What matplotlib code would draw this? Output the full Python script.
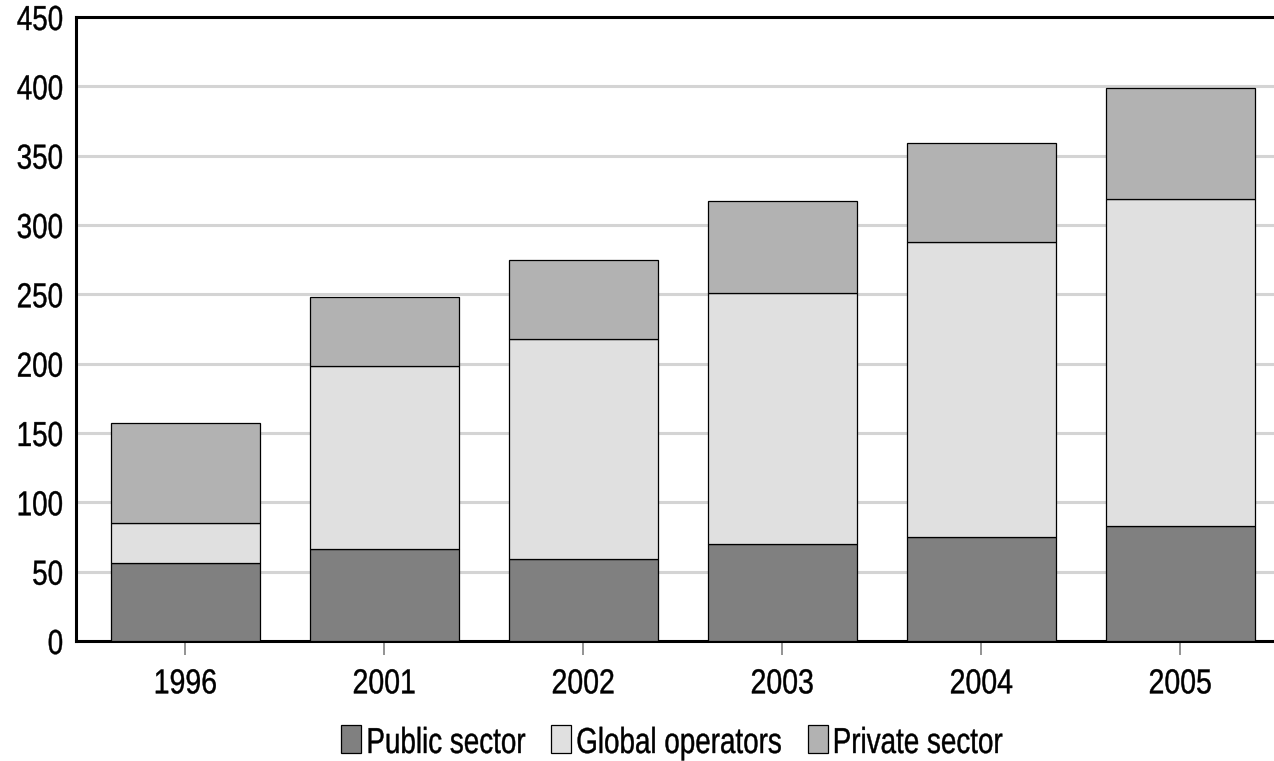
import matplotlib.pyplot as plt
import numpy as np
from matplotlib.patches import Rectangle
from matplotlib.patheffects import AbstractPathEffect
from matplotlib.transforms import Affine2D, IdentityTransform

plt.rcParams['font.family'] = ['Liberation Sans', 'DejaVu Sans']

years = ['1996', '2001', '2002', '2003', '2004', '2005']
public_sector = [56, 66, 59, 70, 75, 83]
global_operators = [29, 132, 159, 181, 213, 236]
private_sector = [72, 50, 57, 66, 71, 80]

series = [
    ('Public sector', public_sector, '#808080'),
    ('Global operators', global_operators, '#e0e0e0'),
    ('Private sector', private_sector, '#b2b2b2'),
]


class Squeeze(AbstractPathEffect):
    """Narrow the glyphs horizontally around an anchor (0 left, 0.5 centre, 1 right)
    and give them a thin outline so they read a little heavier."""

    def __init__(self, sx, anchor=0.5, weight=0.3):
        super().__init__()
        self.sx = sx
        self.anchor = anchor
        self.weight = weight

    def draw_path(self, renderer, gc, tpath, affine, rgbFace=None):
        xs = tpath.vertices[:, 0]
        cx = xs.min() + self.anchor * (xs.max() - xs.min()) if len(xs) else 0
        squeeze = Affine2D().translate(-cx, 0).scale(self.sx, 1).translate(cx, 0)
        gc0 = renderer.new_gc()
        gc0.copy_properties(gc)
        gc0.set_linewidth(self.weight)
        gc0.set_foreground(rgbFace if rgbFace is not None else 'black')
        renderer.draw_path(gc0, tpath, squeeze + affine, rgbFace)
        gc0.restore()


W, H = 1274, 761
fig = plt.figure(figsize=(W / 100, H / 100), dpi=100)
ax = fig.add_axes([76 / W, 1 - 641 / H, 1 - 76 / W, (641 - 17) / H])

x = np.arange(len(years))
bottom = np.zeros(len(years))
for name, vals, color in series:
    ax.bar(x, vals, width=0.75, bottom=bottom, color=color,
           edgecolor='black', linewidth=0.9, zorder=3)
    bottom += np.array(vals)

ax.set_ylim(0, 450)
ax.set_yticks(range(0, 451, 50))
ax.set_xlim(-0.55, 5.47)
ax.set_xticks(x)
ax.set_xticklabels(years)

ax.yaxis.grid(True, color='#d4d4d4', linewidth=2.2, zorder=0)
ax.set_axisbelow(True)

for side in ['left', 'bottom', 'top']:
    ax.spines[side].set_linewidth(2.2)
    ax.spines[side].set_color('black')
ax.spines['right'].set_visible(False)

ax.tick_params(axis='y', length=0, labelsize=25, pad=9)
ax.tick_params(axis='x', length=10, width=1.2, color='#808080',
               labelsize=25, pad=9)

for t in ax.get_yticklabels():
    t.set_path_effects([Squeeze(0.8, anchor=1)])
for t in ax.get_xticklabels():
    t.set_path_effects([Squeeze(0.82, anchor=0.5)])

# legend row built by hand so the narrowed labels sit tight to their boxes
leg_sx = 0.77
box_w, box_h = 20, 28
base_y = 8
renderer = fig.canvas.get_renderer()
items = []
pos = 0
for name, vals, color in series:
    box = Rectangle((pos, base_y), box_w, box_h, facecolor=color,
                    edgecolor='black', linewidth=0.9,
                    transform=IdentityTransform())
    fig.add_artist(box)
    txt = fig.text(pos + box_w + 5, base_y, name, fontsize=26,
                   va='baseline', ha='left', transform=IdentityTransform())
    txt.set_path_effects([Squeeze(leg_sx, anchor=0)])
    tw = txt.get_window_extent(renderer).width * leg_sx
    items.append((box, txt, pos))
    pos += box_w + 5 + tw + 26
total = pos - 26
shift = 672 - total / 2
for box, txt, p in items:
    box.set_x(p + shift)
    txt.set_x(p + shift + box_w + 5)

fig.savefig('out.png', dpi=100)
